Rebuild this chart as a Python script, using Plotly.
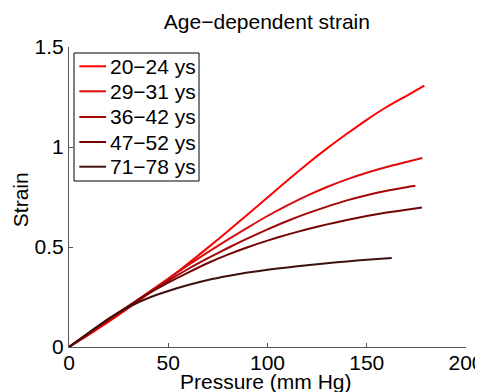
import plotly.graph_objects as go

labels = ["20\u221224 ys", "29\u221231 ys", "36\u221242 ys", "47\u221252 ys", "71\u221278 ys"]
colors = ["#ff0000", "#dc0c0c", "#a20606", "#740404", "#401010"]

p_20_24 = [0, 10, 20, 30, 40, 50, 60, 70, 80, 90, 100, 110, 120, 130, 140, 150, 160, 170, 179]
s_20_24 = [0, 0.062, 0.127, 0.195, 0.266, 0.340, 0.417, 0.497, 0.579, 0.663, 0.748, 0.833, 0.915, 0.993, 1.066, 1.136, 1.200, 1.256, 1.307]

p_29_31 = [0, 10, 20, 30, 40, 50, 60, 70, 80, 90, 100, 110, 120, 130, 140, 150, 160, 170, 178]
s_29_31 = [0, 0.066, 0.134, 0.203, 0.273, 0.342, 0.409, 0.474, 0.537, 0.597, 0.655, 0.708, 0.757, 0.800, 0.838, 0.871, 0.900, 0.925, 0.945]

p_36_42 = [0, 10, 20, 30, 40, 50, 60, 70, 80, 90, 100, 110, 120, 130, 140, 150, 160, 170, 174.5]
s_36_42 = [0, 0.068, 0.137, 0.205, 0.270, 0.332, 0.390, 0.444, 0.495, 0.543, 0.588, 0.630, 0.668, 0.702, 0.733, 0.759, 0.781, 0.799, 0.806]

p_47_52 = [0, 10, 20, 30, 40, 50, 60, 70, 80, 90, 100, 110, 120, 130, 140, 150, 160, 170, 177.8]
s_47_52 = [0, 0.070, 0.140, 0.205, 0.267, 0.322, 0.372, 0.420, 0.462, 0.499, 0.532, 0.562, 0.589, 0.613, 0.635, 0.655, 0.672, 0.686, 0.697]

p_71_78 = [0, 10, 20, 30, 40, 50, 60, 70, 80, 90, 100, 110, 120, 130, 140, 150, 162.6]
s_71_78 = [0, 0.072, 0.142, 0.200, 0.245, 0.280, 0.310, 0.335, 0.355, 0.372, 0.386, 0.398, 0.409, 0.419, 0.428, 0.436, 0.445]

x_ticks = [0, 50, 100, 150, 200]
y_ticks = [0, 0.5, 1, 1.5]
y_tick_text = ["0", "0.5", "1", "1.5"]

series = [(p_20_24, s_20_24), (p_29_31, s_29_31), (p_36_42, s_36_42), (p_47_52, s_47_52), (p_71_78, s_71_78)]

FONT = "Liberation Sans, Arial, Helvetica, sans-serif"
FS = 21
AXC = "#555555"

fig = go.Figure()
for (px, sy), name, c in zip(series, labels, colors):
    fig.add_trace(go.Scatter(x=px, y=sy, mode="lines", name=name, showlegend=False,
                             line=dict(color=c, width=2, shape="spline", smoothing=0.6)))

# Hand-drawn legend box (MATLAB style), in plot-area (paper) coordinates
shapes = [dict(type="rect", xref="paper", yref="paper", x0=0.0126, x1=0.3275, y0=0.5533, y1=0.98,
               line=dict(color="black", width=1), fillcolor="white", layer="above")]
annotations = []
row_y = [0.9357, 0.8523, 0.7667, 0.6833, 0.601]
for name, c, yy in zip(labels, colors, row_y):
    shapes.append(dict(type="line", xref="paper", yref="paper", x0=0.026, x1=0.0932, y0=yy, y1=yy,
                       line=dict(color=c, width=2), layer="above"))
    annotations.append(dict(text=name, xref="paper", yref="paper", x=0.0975, y=yy,
                            xanchor="left", yanchor="middle", showarrow=False,
                            font=dict(family=FONT, size=FS, color="black")))

annotations.append(dict(text="Pressure (mm Hg)", xref="paper", yref="paper", x=0.496, y=-0.116,
                        xanchor="center", yanchor="middle", showarrow=False,
                        font=dict(family=FONT, size=FS, color="black")))
annotations.append(dict(text="Strain", xref="paper", yref="paper", x=-0.123, y=0.49,
                        xanchor="center", yanchor="middle", showarrow=False, textangle=-90,
                        font=dict(family=FONT, size=FS, color="black")))

fig.update_layout(
    width=475, height=384,
    margin=dict(l=61, r=17, t=39, b=45, autoexpand=False),
    paper_bgcolor="white", plot_bgcolor="white",
    font=dict(family=FONT, size=FS, color="black"),
    title=dict(text="Age\u2212dependent strain", x=0.545, xanchor="center", y=0.9635, yanchor="middle",
               font=dict(family=FONT, size=FS, color="black")),
    showlegend=False,
    shapes=shapes,
    annotations=annotations,
    xaxis=dict(range=[0, 200], tickvals=x_ticks, ticks="inside", ticklen=4, tickcolor=AXC,
               showline=True, linecolor=AXC, linewidth=1, showgrid=False, zeroline=False,
               automargin=False, tickfont=dict(size=FS), ticklabeloverflow="allow",
               ticklabelstandoff=-3),
    yaxis=dict(range=[0, 1.5], tickvals=y_ticks, ticktext=y_tick_text, ticks="inside", ticklen=4,
               tickcolor=AXC, showline=True, linecolor=AXC, linewidth=1, showgrid=False,
               zeroline=False, automargin=False, tickfont=dict(size=FS), ticklabeloverflow="allow"),
)

fig.write_html("out.html")
